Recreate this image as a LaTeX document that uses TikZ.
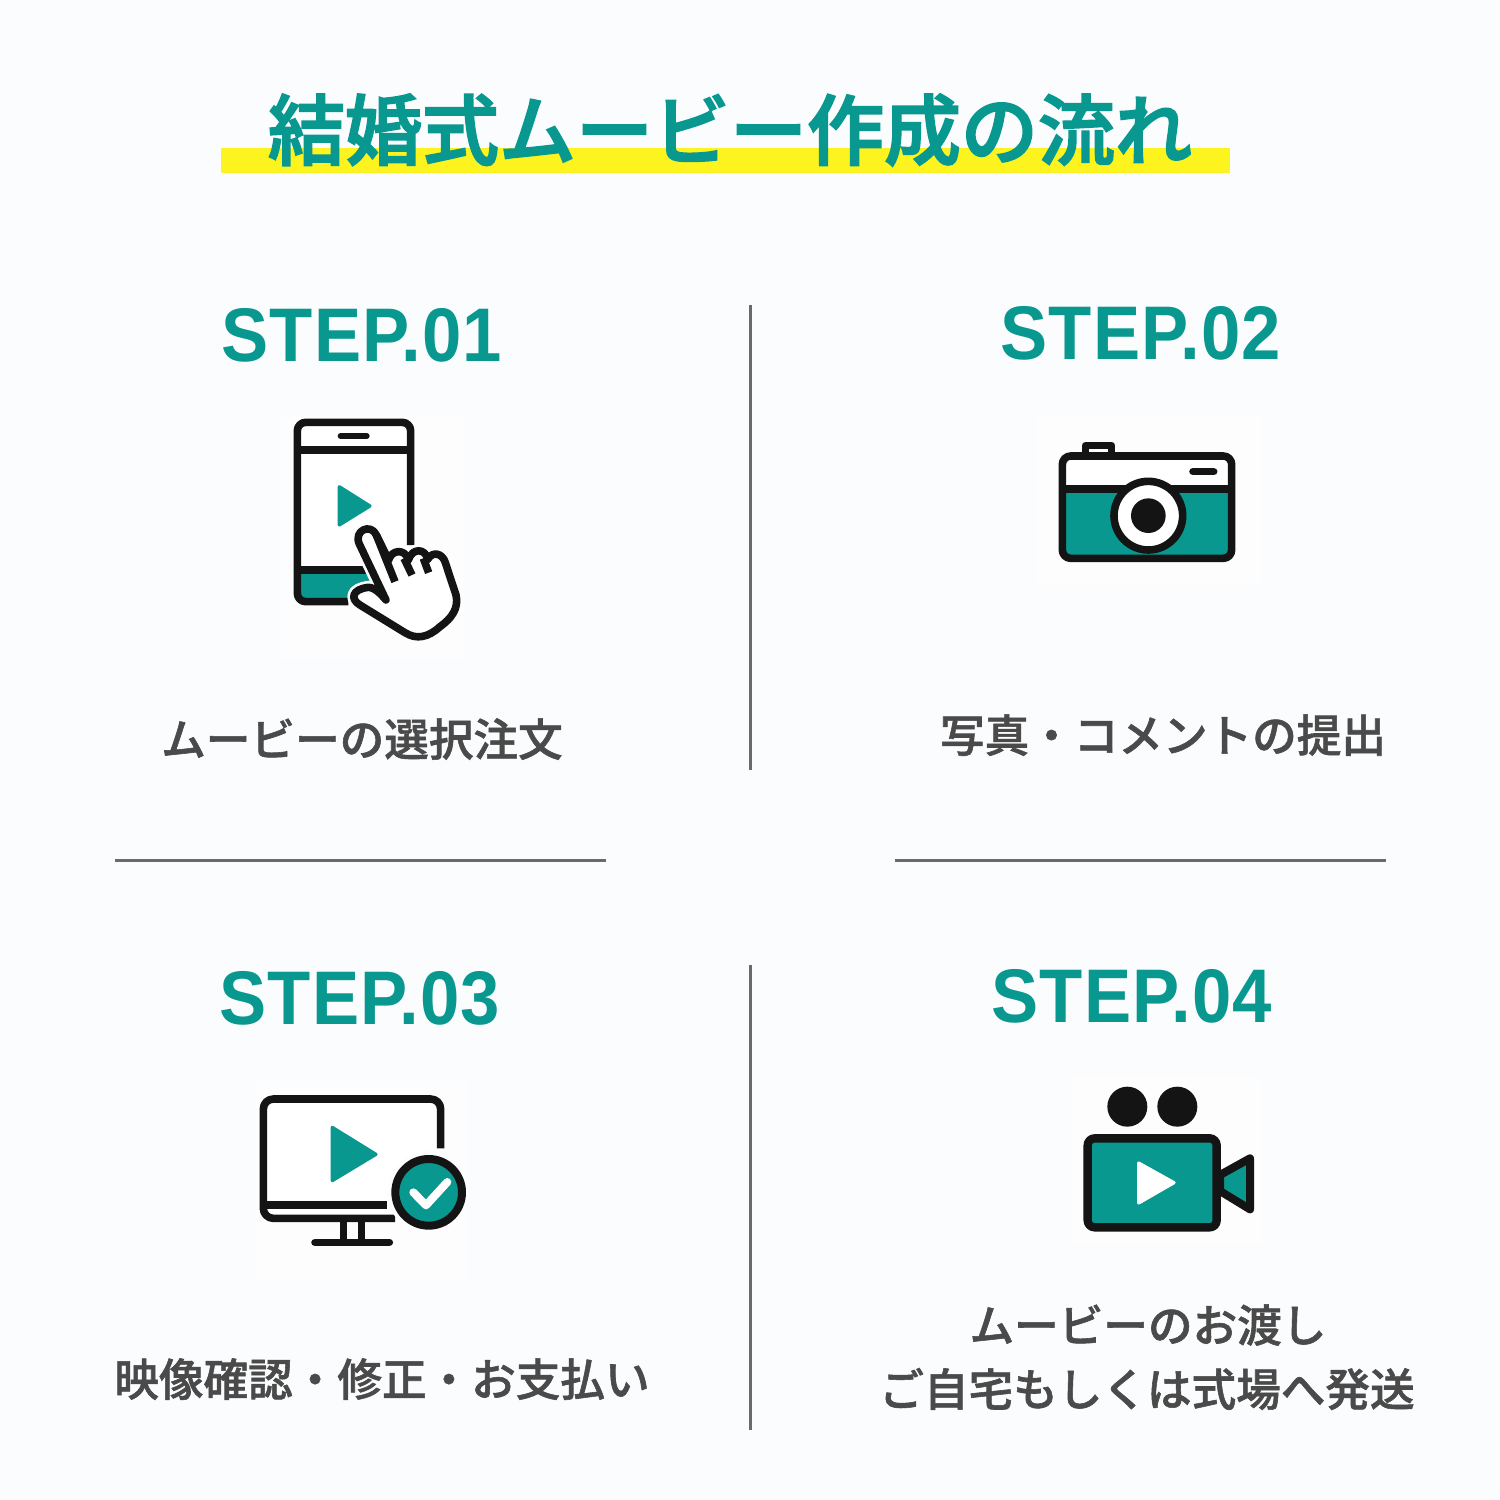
\documentclass[tikz,border=0pt]{standalone}
\usepackage{fontspec}
\newfontfamily\jpt[FakeBold=2.4]{Noto Sans CJK JP Medium}
\newfontfamily\jpm[FakeBold=1.3]{Noto Sans CJK JP Medium}
\newfontfamily\stepfont[FakeStretch=0.93,LetterSpace=1.5]{Liberation Sans}
\definecolor{bgc}{HTML}{FBFCFE}
\definecolor{panelc}{HTML}{FDFDFD}
\definecolor{teal0}{HTML}{08988F}
\definecolor{ink}{HTML}{141414}
\definecolor{yel}{HTML}{FCF31F}
\definecolor{rulec}{HTML}{6A6A6A}
\definecolor{capc}{HTML}{4A4A4A}
\tikzset{
 titletext/.style={anchor=base,text=teal0,font=\jpt\fontsize{38.5}{40}\selectfont,inner sep=0pt},
 steptext/.style={anchor=base,text=teal0,font=\stepfont\bfseries\fontsize{38}{40}\selectfont,inner sep=0pt},
 captext/.style={anchor=base,text=capc,font=\jpm\fontsize{22.3}{24}\selectfont,inner sep=0pt},
 sep/.style={draw=rulec,line width=1.5pt},
 ic/.style={draw=ink,line width=3.8pt,line join=round,line cap=butt},
 icr/.style={ic,line cap=round},
 tri/.style={line width=1.6pt,line join=round},
 panel/.style={fill=panelc},
}
\begin{document}
\begin{tikzpicture}[x=0.5pt,y=-0.5pt]
\useasboundingbox (0,0) rectangle (1500,1500);
\fill[bgc] (0,0) rectangle (1500,1500);
% title
\fill[yel] (221,148) rectangle (1230,173);
\node[titletext] (title) at (730,159) {結婚式ムービー作成の流れ};
% separators
\draw[sep] (750,305) -- (750,770);
\draw[sep] (750,965) -- (750,1430);
\draw[sep] (115,860) -- (606,860);
\draw[sep] (895,860) -- (1386,860);
% step headings
\node[steptext] (s1) at (362,361) {STEP.01};
\node[steptext] (s2) at (1141,359) {STEP.02};
\node[steptext] (s3) at (360,1024) {STEP.03};
\node[steptext] (s4) at (1132,1022) {STEP.04};
% captions
\node[captext] (c1) at (362,756) {ムービーの選択注文};
\node[captext] (c2) at (1163,752) {写真・コメントの提出};
\node[captext] (c3) at (382,1396) {映像確認・修正・お支払い};
\node[captext] (c4a) at (1148,1342) {ムービーのお渡し};
\node[captext] (c4b) at (1147,1406) {ご自宅もしくは式場へ発送};
% faint icon panels
\path[panel] (280,415) rectangle (465,660);
\path[panel] (1038,415) rectangle (1262,585);
\path[panel] (255,1080) rectangle (466,1280);
\path[panel] (1072,1078) rectangle (1262,1243);
% phone icon
\begin{scope}[shift={(260,400)},scale=1/3]
\fill[white] (112,67) rectangle (452,600);
\fill[teal0] (118,515) -- (318,515) -- (340,565) -- (265,600) -- (118,600) -- cycle;
\draw[ic,rounded corners=4.2pt] (265,605) -- (112,605) -- (112,67) -- (452,67) -- (452,435);
\draw[ic] (112,150) -- (452,150);
\draw[ic] (112,510) -- (318,510);
\draw[icr,line width=3pt] (242,108) -- (320,108);
\fill[teal0,draw=teal0,tri] (238,260) -- (330,318) -- (238,375) -- cycle;
\def\handpath{(378,600) -- (298,432) .. controls (280,392) and (332,368) .. (349,405) -- (386,480)
  .. controls (395,448) and (436,445) .. (445,480)
  .. controls (457,442) and (497,445) .. (503,478)
  .. controls (518,452) and (548,460) .. (556,488)
  -- (588,585) .. controls (597,625) and (575,655) .. (540,680)
  .. controls (505,712) and (470,720) .. (435,698)
  -- (300,615) .. controls (270,597) and (275,568) .. (325,562)
  .. controls (345,562) and (365,585) .. (378,600) -- cycle}
\draw[panelc,line width=6.5pt,line join=round] \handpath;
\draw[ic,fill=white] \handpath;
\draw[ic] (349,405) -- (405,545);
\draw[ic] (432,475) -- (456,525);
\draw[ic] (490,475) -- (506,518);
\end{scope}
% camera icon
\begin{scope}[shift={(1040,420)},scale=1/3]
\draw[ic,fill=white] (137,100) -- (137,77) -- (215,77) -- (215,100);
\fill[white,rounded corners=4pt] (67,108) rectangle (575,415);
\fill[teal0,rounded corners=4pt] (67,207) rectangle (575,415);
\draw[ic,rounded corners=4.2pt] (67,108) rectangle (575,415);
\draw[ic] (67,207) -- (575,207);
\draw[icr] (459,155) -- (521,155);
\draw[ic,fill=white] (325,287) circle[radius=103];
\fill[ink] (325,287) circle[radius=52];
\end{scope}
% monitor icon
\begin{scope}[shift={(250,1080)},scale=1/3]
\draw[ic,rounded corners=5pt,fill=white] (572,205) -- (572,57) -- (40,57) -- (40,415) -- (435,415);
\draw[ic] (40,375) -- (412,375);
\draw[ic] (280,415) -- (280,485);
\draw[ic] (335,415) -- (335,485);
\draw[icr] (195,487) -- (418,487);
\fill[teal0,draw=teal0,tri] (247,142) -- (378,223) -- (247,302) -- cycle;
\fill[panelc] (536,337) circle[radius=124];
\draw[ic,fill=teal0,line width=4pt] (536,337) circle[radius=100];
\draw[white,line width=4pt,line cap=round,line join=round] (490,337) -- (528,376) -- (592,306);
\end{scope}
% video camera icon
\begin{scope}[shift={(1070,1075)},scale=1/3]
\fill[ink] (172,95) circle[radius=60];
\fill[ink] (322,95) circle[radius=60];
\draw[ic,fill=teal0,line width=4.2pt,rounded corners=3.5pt] (53,190) rectangle (440,457);
\draw[ic,fill=teal0,line width=4pt] (450,300) -- (540,250) -- (540,403) -- (450,348) -- cycle;
\fill[white,draw=white,tri] (206,264) -- (312,323) -- (206,384) -- cycle;
\end{scope}
\end{tikzpicture}
\end{document}
